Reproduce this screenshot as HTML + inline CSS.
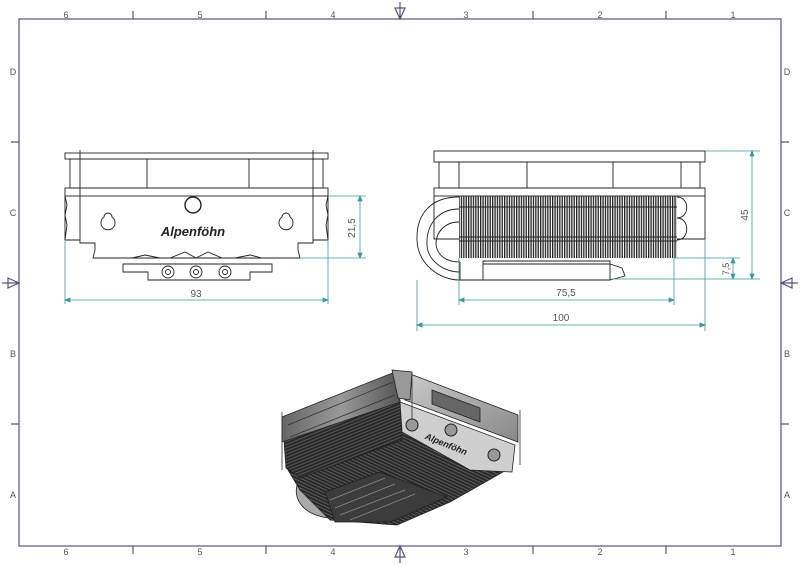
<!DOCTYPE html>
<html><head><meta charset="utf-8"><style>
html,body{margin:0;padding:0;background:#fff;}
svg{display:block;}
text{font-family:"Liberation Sans",sans-serif;}
</style></head><body>
<svg width="800" height="566" viewBox="0 0 800 566" xmlns="http://www.w3.org/2000/svg">
<defs>
<pattern id="fins" width="2.4" height="10" patternUnits="userSpaceOnUse"><rect width="2.4" height="10" fill="#fff"/><rect width="1.3" height="10" fill="#222"/></pattern>
<pattern id="dfins" width="3" height="3" patternUnits="userSpaceOnUse" patternTransform="rotate(-22)"><rect width="3" height="3" fill="#2a2a2a"/><rect width="3" height="1" fill="#555"/></pattern>
<pattern id="dfins2" width="3" height="3" patternUnits="userSpaceOnUse" patternTransform="rotate(25)"><rect width="3" height="3" fill="#2a2a2a"/><rect width="3" height="1" fill="#5a5a5a"/></pattern>
<linearGradient id="lg" x1="0" y1="0" x2="1" y2="1"><stop offset="0" stop-color="#ccc"/><stop offset="1" stop-color="#888"/></linearGradient>
<linearGradient id="lf" x1="0" y1="0" x2="1" y2="0"><stop offset="0" stop-color="#666"/><stop offset="0.5" stop-color="#999"/><stop offset="1" stop-color="#555"/></linearGradient>
</defs>
<!-- border -->
<g stroke="#55557a" stroke-width="1.2" fill="none">
<rect x="19" y="19" width="762" height="527"/>
<path d="M133 19V11M266 19V11M533 19V11M666 19V11M133 546V554M266 546V554M533 546V554M666 546V554M19 142H11M19 424H11M781 142H789M781 424H789"/>
<path d="M400 19V2M395 8L400 19L405 8Z M400 546V563M395 557L400 546L405 557Z M19 283H2M8 278L19 283L8 288Z M781 283H798M792 278L781 283L792 288Z"/>
</g>
<g font-size="9" fill="#555" text-anchor="middle">
<text x="66" y="18">6</text><text x="200" y="18">5</text><text x="333" y="18">4</text><text x="466" y="18">3</text><text x="600" y="18">2</text><text x="733" y="18">1</text>
<text x="66" y="555">6</text><text x="200" y="555">5</text><text x="333" y="555">4</text><text x="466" y="555">3</text><text x="600" y="555">2</text><text x="733" y="555">1</text>
<text x="13" y="75">D</text><text x="13" y="216">C</text><text x="13" y="357">B</text><text x="13" y="498">A</text>
<text x="787" y="75">D</text><text x="787" y="216">C</text><text x="787" y="357">B</text><text x="787" y="498">A</text>
</g>
<!-- FRONT VIEW -->
<g stroke="#222" stroke-width="0.9" fill="none">
<rect x="65" y="153" width="263" height="6"/>
<rect x="70" y="159" width="253" height="29"/>
<path d="M147 159V188M249 159V188"/>
<rect x="65" y="188" width="263" height="8"/>
<path d="M65 196V240H80V243H95V250L93 258H300L298 250V243H313V240H328V196"/>
<path d="M65 196L67 205L65 215L67 225L65 240M328 196L326 205L328 215L326 225L328 240"/>
<path d="M80 150V240M313 150V240"/>
<path d="M132 258L145 255L160 258M170 258L185 252L196 258L208 252L222 258M235 258L250 255L262 258"/>
<path d="M104 217A7 7 0 1 0 112 217A4 4 0 1 0 104 217Z"/>
<path d="M282 217A7 7 0 1 0 290 217A4 4 0 1 0 282 217Z"/>
<circle cx="193" cy="205" r="8" stroke-width="1.4"/>
<path d="M123 264H272V272H250V280H148V272H123Z"/>
<circle cx="168" cy="272" r="6"/><circle cx="168" cy="272" r="2.5"/>
<circle cx="196" cy="272" r="6"/><circle cx="196" cy="272" r="2.5"/>
<circle cx="225" cy="272" r="6"/><circle cx="225" cy="272" r="2.5"/>
</g>
<text x="193" y="236" font-size="13" font-style="italic" font-weight="bold" font-family="Liberation Serif,serif" text-anchor="middle" fill="#222">Alpenföhn</text>
<!-- front dims -->
<g stroke="#3a9a9a" stroke-width="0.8" fill="#3a9a9a">
<path d="M328 196H366M300 258H366M360 196V258M65 240V304M328 240V304M65 300H328" fill="none"/>
<path d="M358 201L360 196L362 201ZM358 253L360 258L362 253ZM70 298L65 300L70 302ZM323 298L328 300L323 302Z"/>
</g>
<text x="196" y="297" font-size="10" fill="#555" text-anchor="middle">93</text>
<text transform="translate(355,228) rotate(-90)" font-size="10" fill="#555" text-anchor="middle">21,5</text>
<!-- SIDE VIEW -->
<rect x="459" y="196" width="218" height="62" fill="url(#fins)"/>
<g stroke="#222" stroke-width="0.9" fill="none">
<rect x="434" y="151" width="271" height="11"/>
<rect x="439" y="162" width="261" height="26"/>
<path d="M459 162V188M527 162V188M613 162V188M681 162V188"/>
<rect x="434" y="188" width="271" height="8"/>
<path d="M434 196V239H459M677 239H705V196"/>
<path d="M459 207H677M459 237H677M459 241H677"/>
<path d="M459 197C430 197 416 215 417 240C418 265 440 280 460 280H483"/>
<path d="M459 209C438 209 426 225 427 245C428 262 445 272 460 272"/>
<path d="M459 222C445 222 436 232 436 244C437 256 447 262 460 262"/>
<path d="M677 197C690 197 690 218 677 218C690 218 690 240 677 240"/>
<path d="M460 262V280M483 261H610V280H483ZM483 264H610M610 264L622 268L625 276L610 280"/>
</g>
<!-- side dims -->
<g stroke="#3a9a9a" stroke-width="0.8" fill="#3a9a9a">
<path d="M705 151H760M674 258H740M610 279H760M752 151V279M733 258V279M417 280V331M705 239V331M459 258V305M674 258V305M459 300H674M417 325H705" fill="none"/>
<path d="M750 156L752 151L754 156ZM750 274L752 279L754 274ZM731 263L733 258L735 263ZM731 274L733 279L735 274ZM464 298L459 300L464 302ZM669 298L674 300L669 302ZM422 323L417 325L422 327ZM700 323L705 325L700 327Z"/>
</g>
<text x="566" y="296" font-size="10" fill="#555" text-anchor="middle">75,5</text>
<text x="561" y="321" font-size="10" fill="#555" text-anchor="middle">100</text>
<text transform="translate(748,215) rotate(-90)" font-size="10" fill="#555" text-anchor="middle">45</text>
<text transform="translate(729,269) rotate(-90)" font-size="9" fill="#555" text-anchor="middle">7,5</text>
<!-- ISOMETRIC -->
<g stroke="#222" stroke-width="0.8">
<path d="M300 478C290 495 300 515 330 518L335 508C310 505 305 492 312 478Z" fill="#aaa"/>
<polygon points="288,445 400,402 420,415 503,472 450,502 397,525 330,520 300,490 288,470" fill="url(#dfins2)"/>
<polygon points="284,440 400,400 402,440 300,478 286,468" fill="url(#dfins)"/>
<polygon points="282,417 395,372 400,402 282,442" fill="url(#lf)"/>
<path d="M288 425L393 382M290 437L395 395" stroke="#333" fill="none"/>
<polygon points="405,372 518,415 518,442 405,400" fill="url(#lg)"/>
<polygon points="432,390 480,408 480,422 432,404" fill="#666"/>
<polygon points="400,402 515,445 512,472 470,470 402,432" fill="#cfcfcf"/>
<polygon points="325,492 380,472 447,497 390,522 335,522" fill="#3c3c3c"/>
<path d="M330 500L385 478M335 508L395 484M340 515L405 490M350 520L415 494" stroke="#888" fill="none"/>
<polygon points="392,370 412,372 410,400 398,398" fill="#999"/>
<path d="M412 372V430M520 410V465M282 412V470" stroke="#333" fill="none"/>
</g>
<circle cx="412" cy="425" r="6" fill="#999" stroke="#222"/>
<circle cx="451" cy="430" r="6" fill="#999" stroke="#222"/>
<circle cx="494" cy="455" r="6" fill="#999" stroke="#222"/>
<text transform="translate(445,447) rotate(22)" font-size="9" font-style="italic" font-weight="bold" font-family="Liberation Serif,serif" fill="#222" text-anchor="middle">Alpenföhn</text>
</svg>
</body></html>
